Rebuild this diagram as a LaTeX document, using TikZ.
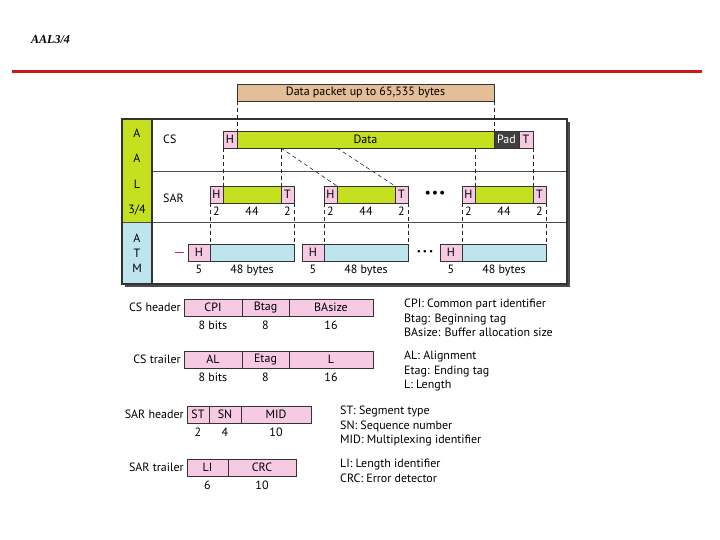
\documentclass[tikz,border=0pt]{standalone}
\usepackage{fontspec}
\setmainfont{PT Sans}
\newfontfamily\titlefont{Liberation Serif}
\usetikzlibrary{positioning}

\definecolor{aalgreen}{RGB}{197,224,30}
\definecolor{hdrpink}{RGB}{247,202,228}
\definecolor{atmblue}{RGB}{190,228,238}
\definecolor{pkttan}{RGB}{228,190,150}
\definecolor{paddark}{RGB}{64,64,64}
\definecolor{slidered}{RGB}{200,28,28}
\definecolor{dashpink}{RGB}{214,30,120}

\begin{document}
\begin{tikzpicture}[
            x=1pt, y=-1pt,
            node distance=0pt,
            cell/.style={
                    rectangle,
                    draw=black!80,
                    line width=0.7pt,
                    minimum height=17pt,
                    inner sep=0pt,
                    outer sep=0pt,
                    font=\fontsize{12}{13}\selectfont
                },
            field/.style={
                    cell,
                    fill=hdrpink
                },
            lbl/.style={
                    inner sep=0pt,
                    font=\fontsize{12}{13}\selectfont
                },
            legend/.style={
                    inner sep=0pt,
                    align=left,
                    font=\fontsize{12}{14.5}\selectfont
                },
            guide/.style={
                    draw=black!85,
                    dash pattern=on 4pt off 3pt,
                    line width=0.6pt
                }
        ]
        \useasboundingbox (0,0) rectangle (720,540);

        % Title and rule
        \node [anchor=west, inner sep=0pt, font=\titlefont\bfseries\itshape\fontsize{12}{14}\selectfont] (title) at (31,40) {AAL3/4};
        \draw [slidered, line width=3pt] (12,72) -- (702,72);

        % Frame
        \fill [black!70] (125,122) rectangle (570,287);
        \fill [white] (122,119) rectangle (567,284);
        \fill [aalgreen] (122,119) rectangle (152,223);
        \fill [atmblue] (122,223) rectangle (152,284);
        \draw [black!70, line width=1pt] (152,172) -- (567,172);
        \draw [black!70, line width=1pt] (122,223) -- (567,223);
        \draw [black!80, line width=1.2pt] (152,119) -- (152,284);
        \draw [black!80, line width=1.2pt] (122,119) rectangle (567,284);

        % Layer names
        \node [lbl] (l1) at (137,133) {A};
        \node [lbl] (l2) at (137,158) {A};
        \node [lbl] (l3) at (137,184) {L};
        \node [lbl] (l4) at (137,210) {3/4};
        \node [lbl] (l5) at (137,238) {A};
        \node [lbl] (l6) at (137,253) {T};
        \node [lbl] (l7) at (137,268) {M};
        \node [lbl, anchor=west] (cs) at (163,139) {CS};
        \node [lbl, anchor=west] (sar) at (163,198) {SAR};

        % Data packet and CS PDU
        \node [cell, fill=pkttan, anchor=north west, minimum width=257pt] (pkt) at (237,84) {Data packet up to 65,535 bytes};
        \node [cell, fill=hdrpink, anchor=north west, minimum width=14pt] (csh) at (223,131) {H};
        \node [cell, fill=aalgreen, minimum width=257pt, right=of csh] (csd) {Data};
        \node [cell, fill=paddark, text=white, minimum width=25pt, right=of csd] (csp) {Pad};
        \node [cell, fill=hdrpink, minimum width=14pt, right=of csp] (cst) {T};
        \draw [guide] (pkt.south west) -- (csd.north west);
        \draw [guide] (pkt.south east) -- (csd.north east);

        % SAR segments and ATM cells
        \foreach \i/\x in {1/210,2/324,3/462} {
            \node [cell, fill=hdrpink, anchor=north west, minimum width=13pt] (sh\i) at (\x,186) {H};
            \node [cell, fill=aalgreen, minimum width=58pt, right=of sh\i] (sd\i) {};
            \node [cell, fill=hdrpink, minimum width=13pt, right=of sd\i] (st\i) {T};
            \node [lbl, below=4pt of sh\i] (shn\i) {2};
            \node [lbl, below=4pt of sd\i] (sdn\i) {44};
            \node [lbl, below=4pt of st\i] (stn\i) {2};
            \node [cell, fill=atmblue, anchor=north west, minimum width=84pt] (ad\i) at (\x,244) {};
            \node [cell, fill=hdrpink, minimum width=22pt, left=of ad\i] (ah\i) {H};
            \node [lbl, below=4pt of ah\i] (ahn\i) {5};
            \node [lbl, below=4pt of ad\i] (adn\i) {48 bytes};
            \draw [guide] (sh\i.south west) -- (ad\i.north west);
            \draw [guide] (st\i.south east) -- (ad\i.north east);
        }
        \node [lbl, font=\fontsize{14}{14}\selectfont] (sardots) at (435,194) {•\kern1pt•\kern1pt•};
        \node [lbl, font=\fontsize{9}{9}\selectfont] (atmdots) at (425,252) {•\kern2pt•\kern2pt•};
        \draw [dashpink, line width=1.8pt] ([xshift=-13pt]ah1.west) -- ([xshift=-4pt]ah1.west);

        % CS to SAR
        \draw [guide] (csh.south west) -- (sd1.north west);
        \draw [guide] (sd1.north east |- csd.south) -- (sd1.north east);
        \draw [guide] (sd1.north east |- csd.south) -- (sd2.north west);
        \draw [guide] (sd2.north west |- csd.south) -- (sd2.north east);
        \draw [guide] (sd3.north west |- csd.south) -- (sd3.north west);
        \draw [guide] (cst.south east) -- (sd3.north east);

        % CS header
        \node [field, anchor=north west, minimum width=58pt] (cpi) at (184,299) {CPI};
        \node [field, minimum width=47pt, right=of cpi] (btag) {Btag};
        \node [field, minimum width=84pt, right=of btag] (basize) {BAsize};
        \node [lbl, left=3pt of cpi] (cshdr) {CS header};
        \node [lbl, below=5pt of cpi] (cpin) {8 bits};
        \node [lbl, below=5pt of btag] (btagn) {8};
        \node [lbl, below=5pt of basize] (basizen) {16};
        \node [legend, right=31pt of basize.north east, anchor=north west] (cshlegend) {CPI: Common part identifier\\Btag: Beginning tag\\BAsize: Buffer allocation size};

        % CS trailer
        \node [field, anchor=north west, minimum width=58pt] (al) at (184,351) {AL};
        \node [field, minimum width=47pt, right=of al] (etag) {Etag};
        \node [field, minimum width=84pt, right=of etag] (len) {L};
        \node [lbl, left=3pt of al] (cstrl) {CS trailer};
        \node [lbl, below=5pt of al] (aln) {8 bits};
        \node [lbl, below=5pt of etag] (etagn) {8};
        \node [lbl, below=5pt of len] (lenn) {16};
        \node [legend, right=31pt of len.north east, anchor=north west] (cstlegend) {AL: Alignment\\Etag: Ending tag\\L: Length};

        % SAR header
        \node [field, anchor=north west, minimum width=22pt] (st) at (187,406) {ST};
        \node [field, minimum width=32pt, right=of st] (sn) {SN};
        \node [field, minimum width=70pt, right=of sn] (mid) {MID};
        \node [lbl, left=3pt of st] (sarhdr) {SAR header};
        \node [lbl, below=5pt of st] (stn) {2};
        \node [lbl, below=5pt of sn] (snn) {4};
        \node [lbl, below=5pt of mid] (midn) {10};
        \node [legend, right=29pt of mid.north east, anchor=north west] (sarhlegend) {ST: Segment type\\SN: Sequence number\\MID: Multiplexing identifier};

        % SAR trailer
        \node [field, anchor=north west, minimum width=41pt] (li) at (187,459) {LI};
        \node [field, minimum width=68pt, right=of li] (crc) {CRC};
        \node [lbl, left=3pt of li] (sartrl) {SAR trailer};
        \node [lbl, below=5pt of li] (lin) {6};
        \node [lbl, below=5pt of crc] (crcn) {10};
        \node [legend, right=44pt of crc.north east, anchor=north west] (sartlegend) {LI: Length identifier\\CRC: Error detector};
    \end{tikzpicture}
\end{document}
